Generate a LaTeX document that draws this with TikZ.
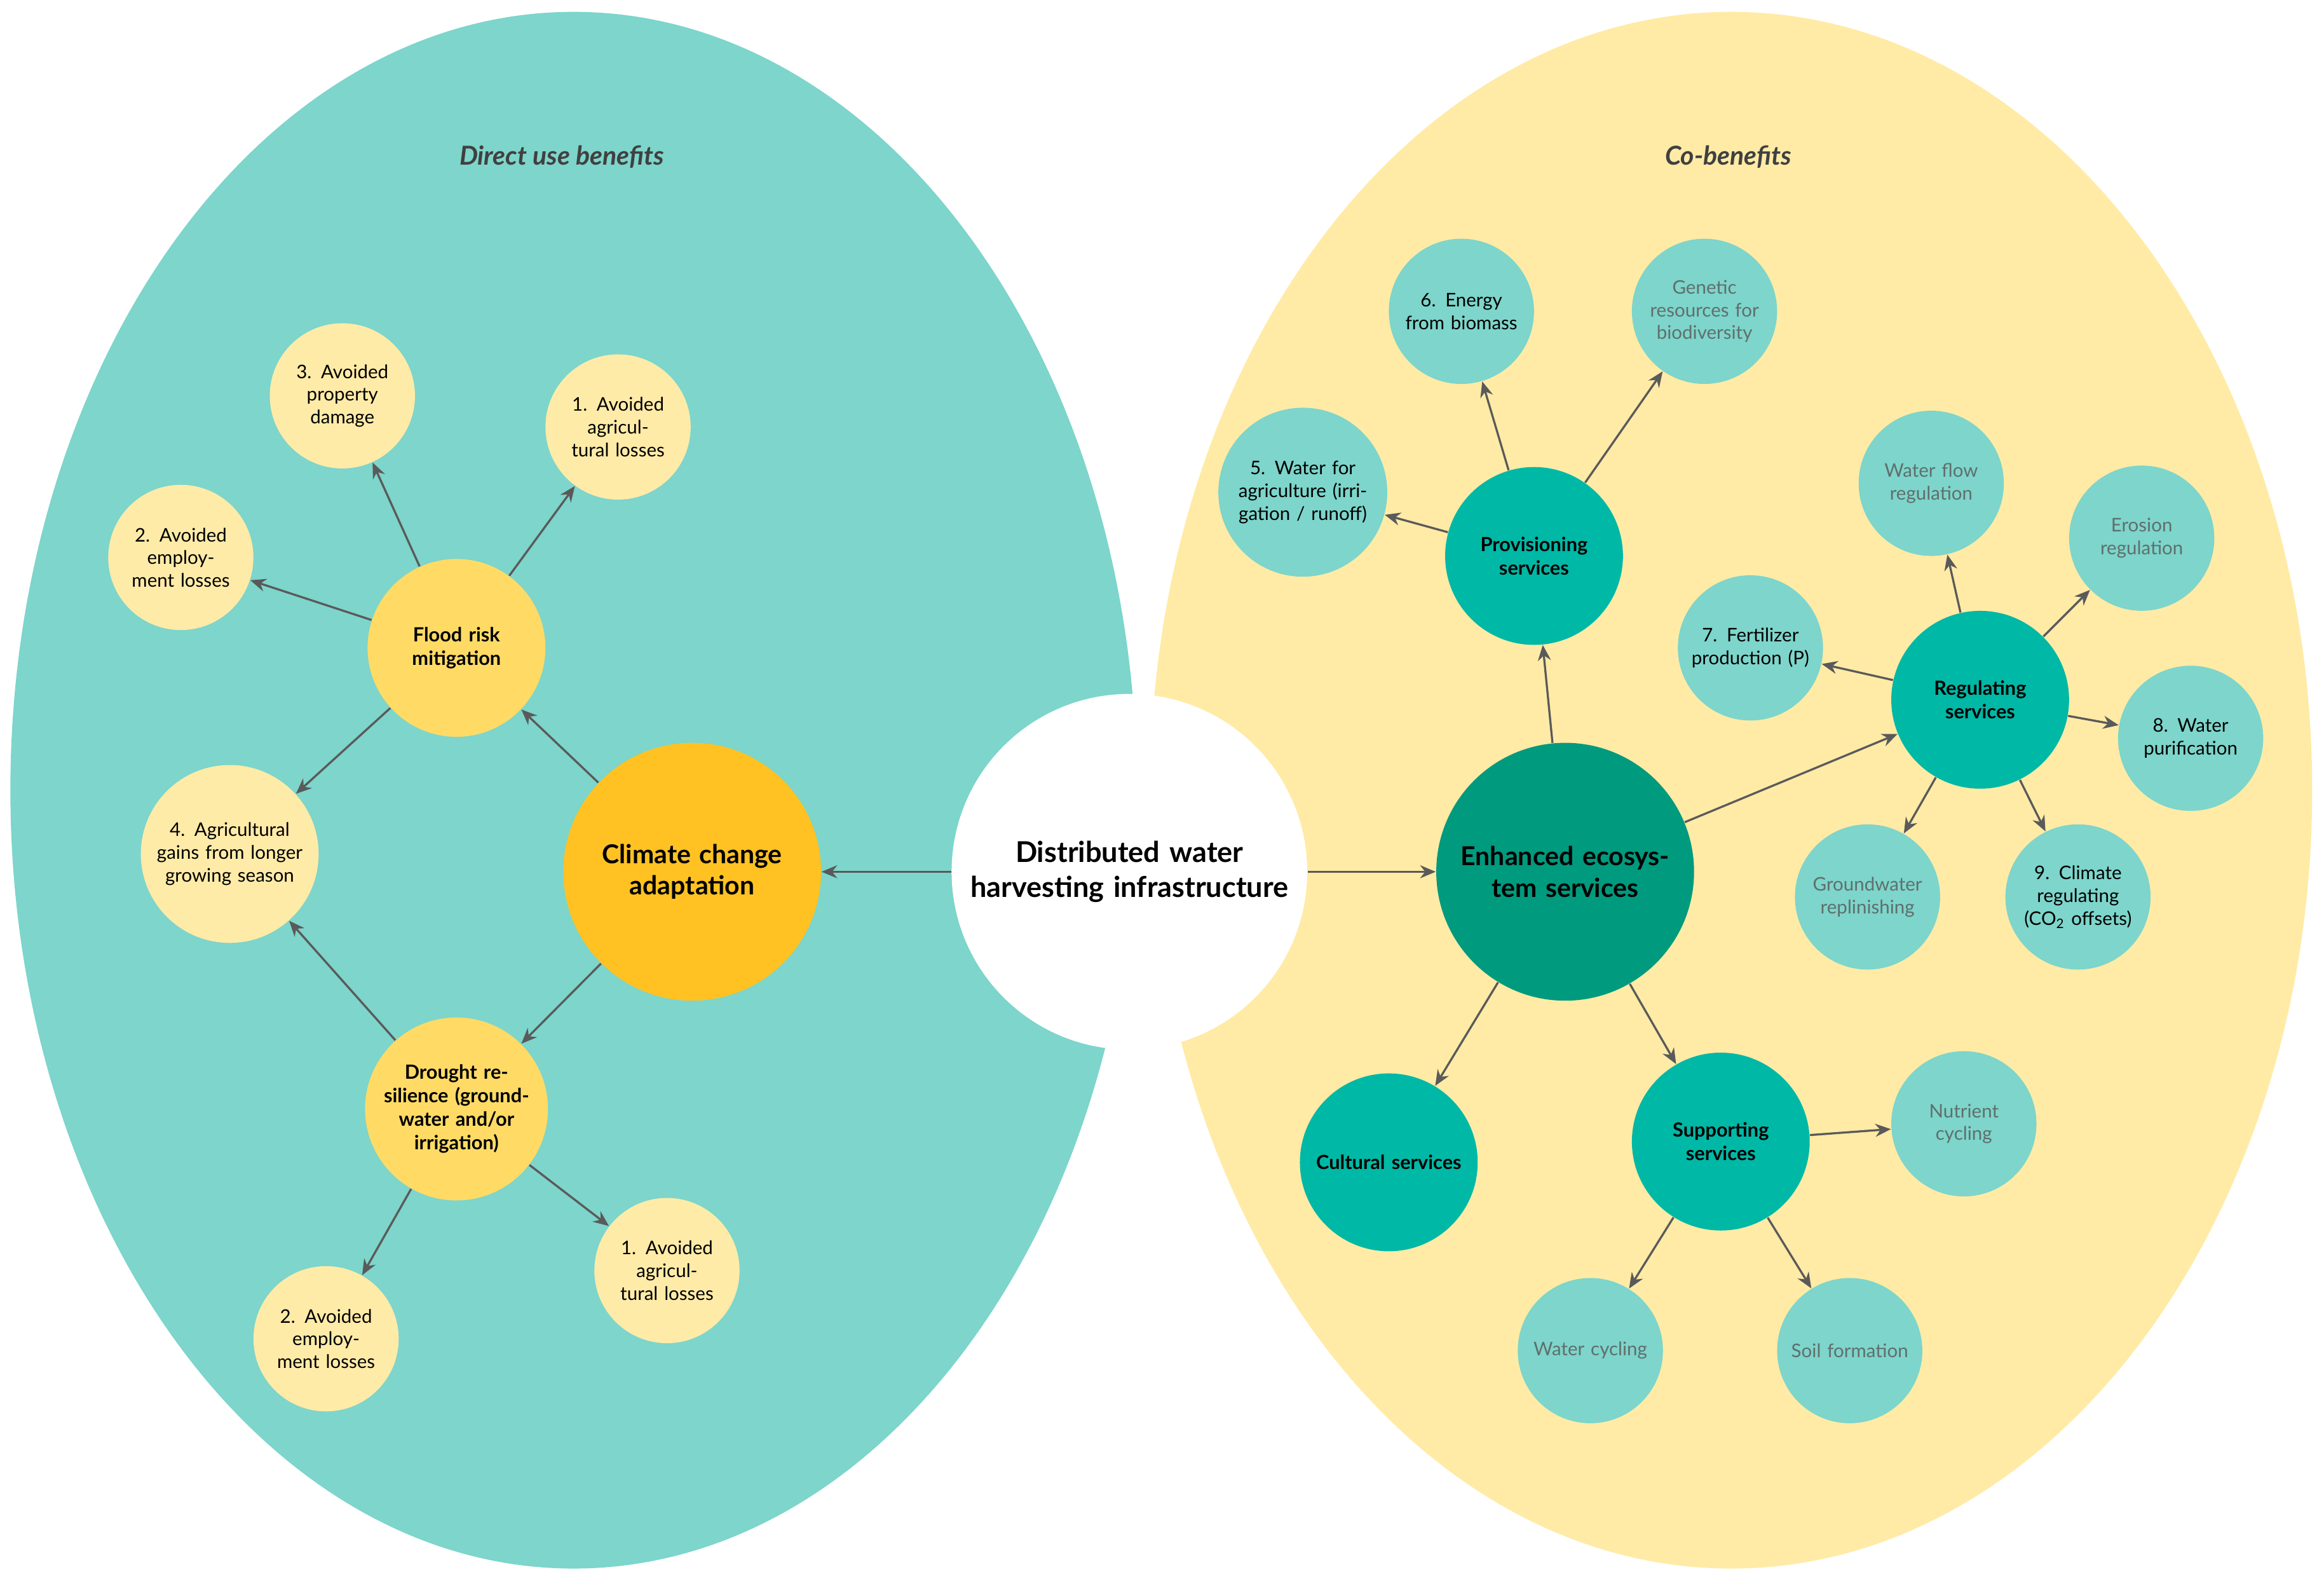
\documentclass[tikz,border=0pt]{standalone}
\usepackage{fontspec}
\setmainfont{Lato}
\usetikzlibrary{arrows.meta}
\definecolor{bgteal}{HTML}{7DD5CB}
\definecolor{bgyel}{HTML}{FFEBA6}
\definecolor{ccyel}{HTML}{FFC222}
\definecolor{midyel}{HTML}{FFDB66}
\definecolor{palyel}{HTML}{FFEBA8}
\definecolor{dkteal}{HTML}{009A7E}
\definecolor{mdteal}{HTML}{00B8A6}
\definecolor{ltteal}{HTML}{7DD5CB}
\definecolor{arr}{HTML}{5A5A5A}
\definecolor{gtxt}{HTML}{5F6F6D}
\begin{document}
\begin{tikzpicture}[x=0.02cm,y=-0.02cm,
  circ/.style={circle,inner sep=0pt,minimum size={#1*0.04cm},align=center,text width={#1*0.036cm}},
  big/.style={circ=87,font=\bfseries\fontsize{10}{12}\selectfont},
  mid/.style={circ=60,font=\bfseries\fontsize{7.5}{9}\selectfont},
  small/.style={circ=49,font=\fontsize{7.2}{8.7}\selectfont},
  a/.style={draw=arr,line width=0.8pt,-{Stealth[length=6pt,width=5pt]}},
]
\useasboundingbox (0,0) rectangle (1568,1065);
\fill[bgteal] (387,533) ellipse [x radius=380,y radius=525];
\fill[bgyel] (1168,533) ellipse [x radius=392,y radius=525];
\node[font=\bfseries\itshape\fontsize{10}{12}\selectfont,text=black!75] (t1) at (379,106) {Direct use benefits};
\node[font=\bfseries\itshape\fontsize{10}{12}\selectfont,text=black!75] (t2) at (1166,106) {Co-benefits};

\node[circ=120,fill=white,font=\bfseries\fontsize{11}{13.5}\selectfont] (c) at (762,588) {Distributed water harvesting infrastructure};

% left
\node[big,fill=ccyel] (cc) at (467,588) {Climate change adaptation};
\node[mid,fill=midyel] (fr) at (308,437) {Flood risk mitigation};
\node[mid,fill=midyel] (dr) at (308,748) {Drought resilience (groundwater and/or irrigation)};
\node[small,fill=palyel] (l3) at (231,267) {3. Avoided property damage};
\node[small,fill=palyel] (l1) at (417,288) {1. Avoided agricultural losses};
\node[small,fill=palyel] (l2) at (122,376) {2. Avoided employment losses};
\node[circ=60,fill=palyel,font=\fontsize{7.2}{8.7}\selectfont] (l4) at (155,576) {4. Agricultural gains from longer growing season};
\node[small,fill=palyel] (l2b) at (220,903) {2. Avoided employment losses};
\node[small,fill=palyel] (l1b) at (450,857) {1. Avoided agricultural losses};

% right
\node[big,fill=dkteal] (es) at (1056,588) {Enhanced ecosystem services};
\node[mid,fill=mdteal] (pv) at (1035,375) {Provisioning services};
\node[mid,fill=mdteal] (rg) at (1336,472) {Regulating services};
\node[mid,fill=mdteal] (cu) at (937,784) {Cultural services};
\node[mid,fill=mdteal] (sp) at (1161,770) {Supporting services};
\node[small,fill=ltteal] (r6) at (986,210) {6. Energy from biomass};
\node[small,fill=ltteal,text=gtxt] (rgen) at (1150,210) {Genetic resources for biodiversity};
\node[circ=57,fill=ltteal,font=\fontsize{7.2}{8.7}\selectfont] (r5) at (879,332) {5. Water for agriculture (irrigation / runoff)};
\node[small,fill=ltteal,text=gtxt] (rwf) at (1303,326) {Water flow regulation};
\node[small,fill=ltteal,text=gtxt] (rer) at (1445,363) {Erosion regulation};
\node[small,fill=ltteal] (r7) at (1181,437) {7. Fertilizer production (P)};
\node[small,fill=ltteal] (r8) at (1478,498) {8. Water purification};
\node[small,fill=ltteal,text=gtxt] (rgw) at (1260,605) {Groundwater replinishing};
\node[small,fill=ltteal] (r9) at (1402,605) {9. Climate regulating (CO\textsubscript{2} offsets)};
\node[small,fill=ltteal,text=gtxt] (rnc) at (1325,758) {Nutrient cycling};
\node[small,fill=ltteal,text=gtxt] (rwc) at (1073,911) {Water cycling};
\node[small,fill=ltteal,text=gtxt] (rsf) at (1248,911) {Soil formation};

\draw[a] (c) -- (cc);
\draw[a] (c) -- (es);
\foreach \s/\t in {cc/fr,cc/dr,fr/l3,fr/l1,fr/l2,fr/l4,dr/l4,dr/l2b,dr/l1b,
  es/pv,es/rg,es/cu,es/sp,pv/r5,pv/r6,pv/rgen,rg/r7,rg/rwf,rg/rer,rg/r8,rg/rgw,rg/r9,
  sp/rnc,sp/rwc,sp/rsf}
  \draw[a] (\s) -- (\t);
\end{tikzpicture}
\end{document}
